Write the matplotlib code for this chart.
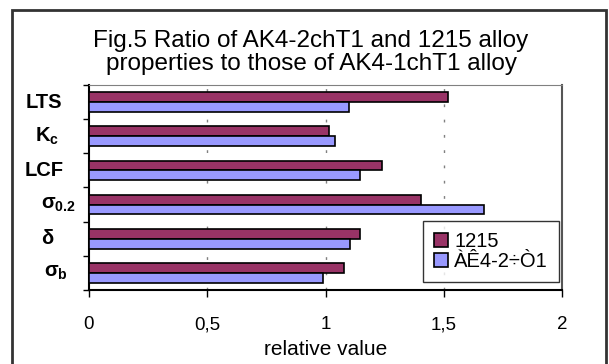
import matplotlib
matplotlib.use("Agg")
import matplotlib.pyplot as plt
from matplotlib.patches import Rectangle
from matplotlib.transforms import blended_transform_factory
import numpy as np

plt.rcParams["font.family"] = ["Liberation Sans", "DejaVu Sans"]
plt.rcParams["mathtext.fontset"] = "custom"
plt.rcParams["mathtext.rm"] = "Liberation Sans"
plt.rcParams["mathtext.bf"] = "Liberation Sans:bold"

# properties, listed top to bottom
props = ["LTS", r"$\mathbf{K_c}$", "LCF", r"$\mathbf{σ_{0.2}}$", r"$\mathbf{δ}$", r"$\mathbf{σ_b}$"]
alloy_1215 = [1.52, 1.015, 1.24, 1.405, 1.145, 1.08]
alloy_ak4 = [1.10, 1.04, 1.145, 1.67, 1.105, 0.99]
series_names = ["1215", "ÀÊ4-2÷Ò1"]
xticks = [0, 0.5, 1, 1.5, 2]
xticklabels = ["0", "0,5", "1", "1,5", "2"]

W, H = 609, 364
fig = plt.figure(figsize=(W / 100, H / 100), dpi=100)
ax = fig.add_axes([89 / W, 1 - 290 / H, (562 - 89) / W, (290 - 85) / H])

n = len(props)
y = np.arange(n)[::-1]
h = 0.29
ax.barh(y + h / 2, alloy_1215, height=h, color="#993366", edgecolor="black", lw=1.2,
        label=series_names[0], zorder=3)
ax.barh(y - h / 2, alloy_ak4, height=h, color="#9999FF", edgecolor="black", lw=1.2,
        label=series_names[1], zorder=3)

ax.set_xlim(0, 2)
ax.set_ylim(-0.5, n - 0.5)
ax.set_xticks(xticks)
ax.set_xticklabels(xticklabels, fontsize=13.5)
ax.tick_params(axis="x", length=5, pad=14, width=1)

# boundary ticks on the category axis, labels placed by hand in the margin
ax.set_yticks(np.arange(-0.5, n, 1))
ax.set_yticklabels([])
ax.tick_params(axis="y", length=4, width=1)
label_x = [44, 47.5, 44, 58, 47.5, 56]
lab_tr = blended_transform_factory(fig.transFigure, ax.transData)
for yi, lab, lx in zip(y, props, label_x):
    ax.text(lx / W, yi, lab, ha="center", va="center", fontsize=14.5, fontweight="bold",
            transform=lab_tr)

for gx in [0.5, 1, 1.5]:
    ax.axvline(gx, color="#808080", lw=1, ls=(0, (2, 9)), zorder=1)

ax.spines["left"].set_linewidth(1.5)
ax.spines["bottom"].set_linewidth(1.5)
ax.spines["top"].set_color("#808080")
ax.spines["right"].set_color("#555555")
ax.spines["right"].set_linewidth(1.5)

ax.set_xlabel("relative value", fontsize=15, labelpad=5)

leg = ax.legend(loc="upper right", bbox_to_anchor=((559 - 89) / 473, (290 - 221) / 205),
                borderaxespad=0, fontsize=14.5, frameon=True, fancybox=False,
                edgecolor="black", borderpad=0.55, handlelength=0.7, handleheight=0.7,
                handletextpad=0.3, labelspacing=0.05)
leg.get_frame().set_linewidth(1)

fig.text(311 / W, 1 - 47 / H, "Fig.5 Ratio of AK4-2chT1 and 1215 alloy",
         ha="center", va="baseline", fontsize=17.5)
fig.text(311 / W, 1 - 70 / H, "properties to those of AK4-1chT1 alloy",
         ha="center", va="baseline", fontsize=17.5)

# outer chart border
fig.add_artist(Rectangle((12 / W, -0.05), (606 - 12) / W, 1.05 - 10 / H,
                         transform=fig.transFigure, fill=False, edgecolor="#333333", lw=2))

fig.savefig("out.png", dpi=100)
